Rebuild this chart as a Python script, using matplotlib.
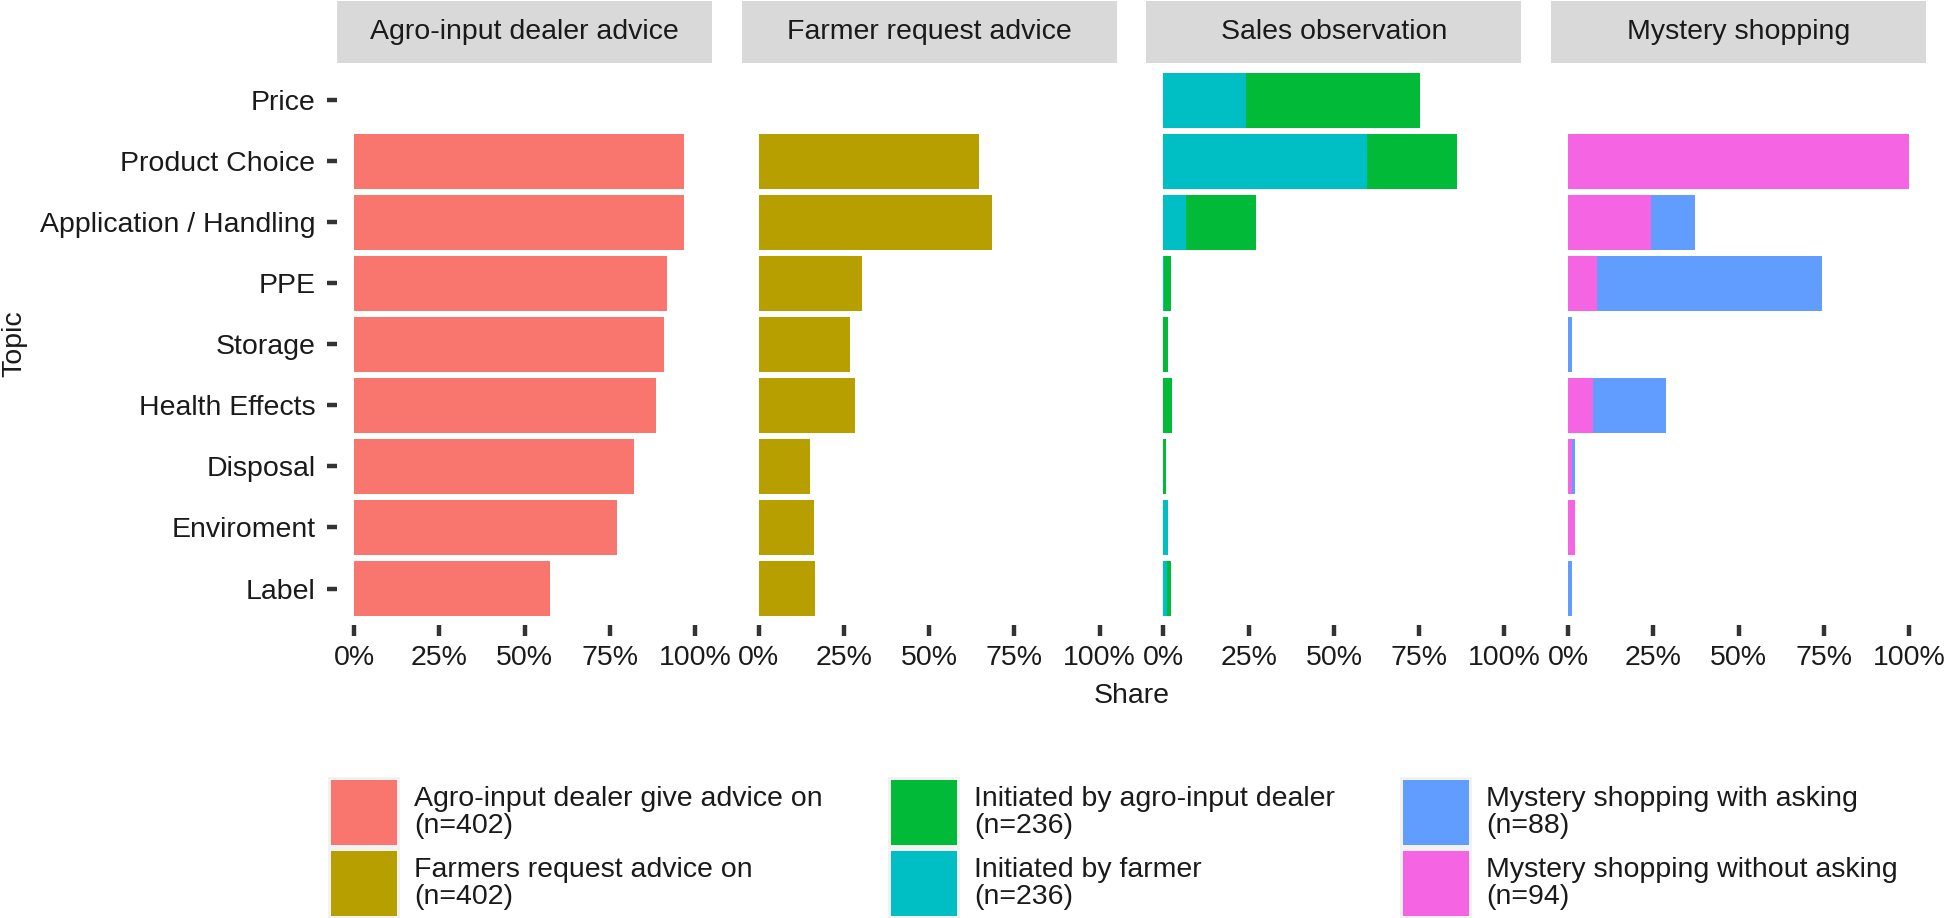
import matplotlib
matplotlib.use("Agg")
import matplotlib.pyplot as plt
from matplotlib.patches import Rectangle
import numpy as np

plt.rcParams['font.family'] = ['Liberation Sans', 'DejaVu Sans']

# ---------------- data ----------------
topics = ["Price", "Product Choice", "Application / Handling", "PPE", "Storage",
          "Health Effects", "Disposal", "Enviroment", "Label"]
panels = ["Agro-input dealer advice", "Farmer request advice",
          "Sales observation", "Mystery shopping"]

dealer_gives = [0, 96.7, 96.9, 91.9, 90.9, 88.5, 82.2, 77.0, 57.6]
farmer_requests = [0, 64.6, 68.3, 30.3, 26.8, 28.3, 15.1, 16.3, 16.6]
sales_by_farmer = [24.1, 59.7, 6.6, 0.3, 0.0, 0.0, 0.0, 1.3, 1.0]
sales_by_dealer = [51.2, 26.5, 20.5, 1.8, 1.3, 2.5, 0.8, 0.0, 1.1]
mystery_without = [0, 100.0, 24.3, 8.5, 0.0, 7.4, 1.1, 2.1, 0.0]
mystery_with = [0, 0.0, 12.9, 65.9, 1.1, 21.2, 1.0, 0.0, 1.1]

x_ticks = [0, 25, 50, 75, 100]
x_ticklabels = ["0%", "25%", "50%", "75%", "100%"]

legend_labels = [
    "Agro-input dealer give advice on\n(n=402)",
    "Farmers request advice on\n(n=402)",
    "Initiated by agro-input dealer\n(n=236)",
    "Initiated by farmer\n(n=236)",
    "Mystery shopping with asking\n(n=88)",
    "Mystery shopping without asking\n(n=94)",
]
colors = {
    "dealer_gives": "#F8766D",
    "farmer_requests": "#B79F00",
    "sales_by_dealer": "#00BA38",
    "sales_by_farmer": "#00BFC4",
    "mystery_with": "#619CFF",
    "mystery_without": "#F564E3",
}
legend_colors = [colors["dealer_gives"], colors["farmer_requests"],
                 colors["sales_by_dealer"], colors["sales_by_farmer"],
                 colors["mystery_with"], colors["mystery_without"]]

# panel contents: list of (values, color) stacked left to right
panel_series = [
    [(dealer_gives, colors["dealer_gives"])],
    [(farmer_requests, colors["farmer_requests"])],
    [(sales_by_farmer, colors["sales_by_farmer"]), (sales_by_dealer, colors["sales_by_dealer"])],
    [(mystery_without, colors["mystery_without"]), (mystery_with, colors["mystery_with"])],
]

# ---------------- layout ----------------
W, H = 1946, 918
fig = plt.figure(figsize=(W / 100, H / 100), dpi=100)

def fx(px):
    return px / W

def fy(py):
    return 1 - py / H

FS = 20.5
TXT = "#1A1A1A"
TICKC = "#333333"

panel_left0 = 337
panel_w = 375
panel_step = 404.7
ax_top, ax_bot = 63.4, 625.2
strip_top = 1

ypos = np.arange(len(topics))
for i, (title, series) in enumerate(zip(panels, panel_series)):
    left = panel_left0 + i * panel_step
    ax = fig.add_axes([fx(left), fy(ax_bot), fx(panel_w), (ax_bot - ax_top) / H])
    base = np.zeros(len(topics))
    for vals, col in series:
        v = np.array(vals, dtype=float)
        ax.barh(ypos, v, left=base, height=0.9, color=col, edgecolor='none')
        base = base + v
    ax.set_xlim(-5, 105)
    ax.set_ylim(len(topics) - 0.4, -0.6)
    ax.set_xticks(x_ticks)
    ax.set_xticklabels(x_ticklabels, fontsize=FS, color=TXT)
    ax.tick_params(axis='x', length=8, width=3.2, color=TICKC, pad=6.5)
    if i == 0:
        ax.set_yticks(ypos)
        ax.set_yticklabels(topics, fontsize=FS, color=TXT)
        ax.tick_params(axis='y', length=7.5, width=3.2, color=TICKC, pad=8)
    else:
        ax.set_yticks([])
    for s in ax.spines.values():
        s.set_visible(False)
    # strip
    sax = fig.add_axes([fx(left), fy(ax_top), fx(panel_w), (ax_top - strip_top) / H])
    sax.set_facecolor("#D9D9D9")
    sax.set_xticks([])
    sax.set_yticks([])
    for s in sax.spines.values():
        s.set_visible(False)
    sax.text(0.5, 0.5, title, ha='center', va='center', fontsize=FS, color=TXT,
             transform=sax.transAxes)

# axis titles
fig.text(fx(1131.5), fy(696), "Share", ha='center', va='center', fontsize=FS, color=TXT)
fig.text(fx(14), fy(344), "Topic", ha='center', va='center', rotation=90, fontsize=FS, color=TXT)

# ---------------- legend ----------------
col_lefts = [331, 891, 1403]
row_tops = [780, 851]
key_w, key_h = 66, 65
for k, (lab, col) in enumerate(zip(legend_labels, legend_colors)):
    c, r = k // 2, k % 2
    x0 = col_lefts[c]
    y0 = row_tops[r]
    fig.add_artist(Rectangle((fx(x0 - 3), fy(y0 + key_h + 3)), fx(key_w + 6), (key_h + 6) / H,
                             transform=fig.transFigure, facecolor="#F2F2F2", edgecolor='none'))
    fig.add_artist(Rectangle((fx(x0), fy(y0 + key_h)), fx(key_w), key_h / H,
                             transform=fig.transFigure, facecolor=col, edgecolor='none'))
    fig.text(fx(x0 + 83), fy(y0 + key_h / 2), lab, ha='left', va='center',
             fontsize=FS, color=TXT, linespacing=1.05)

fig.savefig("out.png", dpi=100)
